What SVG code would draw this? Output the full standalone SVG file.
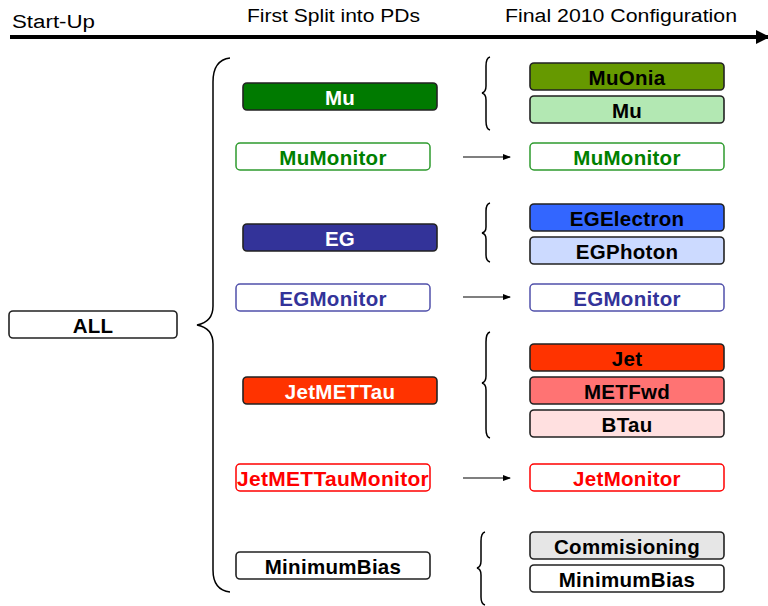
<svg xmlns="http://www.w3.org/2000/svg" width="768" height="606" viewBox="0 0 768 606">
<defs>
<style>
.hd{font-family:"Liberation Sans",Arial,sans-serif;font-size:18px;fill:#000}
.bx{stroke:#222;stroke-width:1.6}
.t{font-family:"Liberation Sans",Arial,sans-serif;font-size:20.5px;font-weight:bold;text-anchor:middle;dominant-baseline:central;letter-spacing:0.3px}
.br{fill:none;stroke:#000;stroke-width:1.5}
.ar{stroke:#000;stroke-width:1.2;marker-end:url(#ah)}
</style>
<marker id="ah" markerWidth="8" markerHeight="6" refX="7" refY="3" orient="auto" markerUnits="userSpaceOnUse">
<path d="M0,0 L8,3 L0,6 Z" fill="#000"/>
</marker>
<marker id="bigah" markerWidth="14" markerHeight="14" refX="12" refY="7" orient="auto" markerUnits="userSpaceOnUse">
<path d="M0,0 L14,7 L0,14 Z" fill="#000"/>
</marker>
</defs>
<rect width="768" height="606" fill="#fff"/>

<g id="timeline">
<line x1="10" y1="37" x2="768" y2="37" stroke="#000" stroke-width="4" marker-end="url(#bigah)"/>
<text class="hd" x="12" y="28" textLength="83" lengthAdjust="spacingAndGlyphs">Start-Up</text>
<text class="hd" x="247" y="22" textLength="173" lengthAdjust="spacingAndGlyphs">First Split into PDs</text>
<text class="hd" x="505" y="22" textLength="232" lengthAdjust="spacingAndGlyphs">Final 2010 Configuration</text>
</g>

<g id="connectors">
<path class="br" d="M230,58 Q213,60 213,82 L213,306 Q213,322 197,325 Q213,328 213,344 L213,570 Q213,590 230,592"/>
<path class="br" d="M490,57 Q486,58 486,66 L486,86 Q486,92 482,93 Q486,94 486,100 L486,121 Q486,129 490,130"/>
<path class="br" d="M490,203 Q486,204 486,211 L486,227 Q486,232 482,233 Q486,234 486,239 L486,255 Q486,261 490,262"/>
<path class="br" d="M490,332 Q486,333 486,342 L486,376 Q486,382 482,383 Q486,384 486,390 L486,429 Q486,437 490,438"/>
<path class="br" d="M485,532 Q481,533 481,541 L481,561 Q481,567 477,568 Q481,569 481,575 L481,597 Q481,604 485,605"/>
<line class="ar" x1="463" y1="157" x2="510" y2="157"/>
<line class="ar" x1="463" y1="297" x2="510" y2="297"/>
<line class="ar" x1="463" y1="478" x2="510" y2="478"/>
</g>

<g id="ALL"><rect class="bx" x="9" y="311" width="168" height="27" rx="4" fill="#fff"/><text class="t" x="93" y="325" fill="#000">ALL</text></g>

<g id="Mu"><rect class="bx" x="243" y="83" width="194" height="27" rx="4" fill="#007A00"/><text class="t" x="340" y="97" fill="#fff">Mu</text></g>
<g id="MuMonitor"><rect x="236" y="143" width="194" height="27" rx="4" fill="#fff" stroke="#2E9B2E" stroke-width="1.5"/><text class="t" x="333" y="157" fill="#008000">MuMonitor</text></g>
<g id="EG"><rect class="bx" x="243" y="224" width="194" height="27" rx="4" fill="#333399"/><text class="t" x="340" y="238" fill="#fff">EG</text></g>
<g id="EGMonitor"><rect x="236" y="284" width="194" height="27" rx="4" fill="#fff" stroke="#5050AA" stroke-width="1.5"/><text class="t" x="333" y="298" fill="#333399">EGMonitor</text></g>
<g id="JetMETTau"><rect class="bx" x="243" y="377" width="194" height="27" rx="4" fill="#FF3300"/><text class="t" x="340" y="391" fill="#fff">JetMETTau</text></g>
<g id="JetMETTauMonitor"><rect x="236" y="464" width="194" height="27" rx="4" fill="#fff" stroke="#FF0000" stroke-width="1.5"/><text class="t" x="333" y="478" fill="#FF0000" textLength="192" lengthAdjust="spacingAndGlyphs">JetMETTauMonitor</text></g>
<g id="MinimumBias"><rect class="bx" x="236" y="552" width="194" height="27" rx="4" fill="#fff"/><text class="t" x="333" y="566" fill="#000">MinimumBias</text></g>

<g id="MuOnia"><rect class="bx" x="530" y="63" width="194" height="27" rx="4" fill="#669900"/><text class="t" x="627" y="77" fill="#000">MuOnia</text></g>
<g id="Mu2"><rect class="bx" x="530" y="96" width="194" height="27" rx="4" fill="#B3E8B3"/><text class="t" x="627" y="110" fill="#000">Mu</text></g>
<g id="MuMonitor2"><rect x="530" y="143" width="194" height="27" rx="4" fill="#fff" stroke="#2E9B2E" stroke-width="1.5"/><text class="t" x="627" y="157" fill="#008000">MuMonitor</text></g>
<g id="EGElectron"><rect class="bx" x="530" y="204" width="194" height="27" rx="4" fill="#3366FF"/><text class="t" x="627" y="218" fill="#000">EGElectron</text></g>
<g id="EGPhoton"><rect class="bx" x="530" y="237" width="194" height="27" rx="4" fill="#CCDAFF"/><text class="t" x="627" y="251" fill="#000">EGPhoton</text></g>
<g id="EGMonitor2"><rect x="530" y="284" width="194" height="27" rx="4" fill="#fff" stroke="#5050AA" stroke-width="1.5"/><text class="t" x="627" y="298" fill="#333399">EGMonitor</text></g>
<g id="Jet"><rect class="bx" x="530" y="344" width="194" height="27" rx="4" fill="#FF3300"/><text class="t" x="627" y="358" fill="#000">Jet</text></g>
<g id="METFwd"><rect class="bx" x="530" y="377" width="194" height="27" rx="4" fill="#FF7373"/><text class="t" x="627" y="391" fill="#000">METFwd</text></g>
<g id="BTau"><rect class="bx" x="530" y="410" width="194" height="27" rx="4" fill="#FFE0E0"/><text class="t" x="627" y="424" fill="#000">BTau</text></g>
<g id="JetMonitor"><rect x="530" y="464" width="194" height="27" rx="4" fill="#fff" stroke="#FF0000" stroke-width="1.5"/><text class="t" x="627" y="478" fill="#FF0000">JetMonitor</text></g>
<g id="Commisioning"><rect class="bx" x="530" y="532" width="194" height="27" rx="4" fill="#E6E6E6"/><text class="t" x="627" y="546" fill="#000">Commisioning</text></g>
<g id="MinimumBias2"><rect class="bx" x="530" y="565" width="194" height="27" rx="4" fill="#fff"/><text class="t" x="627" y="579" fill="#000">MinimumBias</text></g>
</svg>
